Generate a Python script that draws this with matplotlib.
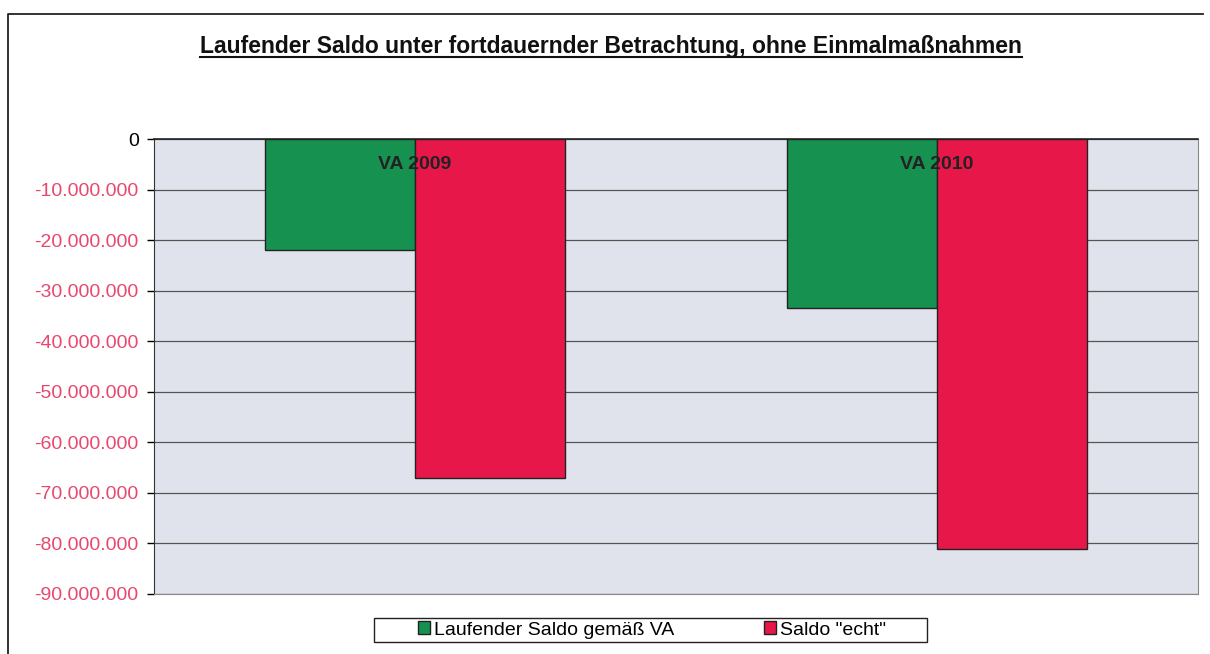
import matplotlib
matplotlib.use('Agg')
import matplotlib.pyplot as plt
from matplotlib.lines import Line2D
from matplotlib.patches import Rectangle

plt.rcParams['font.family'] = ['Liberation Sans', 'DejaVu Sans']

TITLE = 'Laufender Saldo unter fortdauernder Betrachtung, ohne Einmalmaßnahmen'
categories = ['VA 2009', 'VA 2010']
series_names = ['Laufender Saldo gemäß VA', 'Saldo "echt"']
saldo_va = [-22000000, -33500000]
saldo_echt = [-67000000, -81000000]
y_ticks = [0, -10000000, -20000000, -30000000, -40000000,
           -50000000, -60000000, -70000000, -80000000, -90000000]

GREEN = '#17914f'
RED = '#e8174a'
TICK_RED = '#e8486e'
PLOT_BG = '#e1e3ec'

W, H = 1210, 654
fig = plt.figure(figsize=(W / 100, H / 100), dpi=100)
ax = fig.add_axes([154 / W, 1 - 594 / H, (1198 - 154) / W, (594 - 139) / H])
ax.set_facecolor(PLOT_BG)

width = 0.287
x = list(range(len(categories)))
ax.bar([i - width / 2 for i in x], saldo_va, width, color=GREEN,
       edgecolor='#222222', linewidth=1, label=series_names[0], zorder=3)
ax.bar([i + width / 2 for i in x], saldo_echt, width, color=RED,
       edgecolor='#222222', linewidth=1, label=series_names[1], zorder=3)

ax.set_xlim(-0.5, 1.5)
ax.set_ylim(-90000000, 0)
ax.set_yticks(y_ticks)
ax.set_yticklabels(['{:,}'.format(v).replace(',', '.') for v in y_ticks],
                   fontsize=14)
for lbl, v in zip(ax.get_yticklabels(), y_ticks):
    lbl.set_color('black' if v == 0 else TICK_RED)
ax.tick_params(axis='y', direction='out', length=5, width=1, pad=6)
ax.set_xticks([])
ax.grid(axis='y', color='#555555', linewidth=0.9, zorder=1)
ax.set_axisbelow(True)

for s in ['right', 'bottom']:
    ax.spines[s].set_color('#888888')
ax.spines['left'].set_color('#333333')
ax.spines['top'].set_color('#222222')
ax.spines['top'].set_linewidth(1.2)

# category labels sit just under the zero line
for i, c in enumerate(categories):
    ax.text(i, -5000000, c, ha='center', va='center', fontsize=14,
            fontweight='bold', color='#222222', zorder=5)

# outer frame of the chart (left and top edges visible on the scan)
fig.add_artist(Line2D([8 / W, 8 / W, 1203 / W], [0, 1 - 14 / H, 1 - 14 / H],
                      transform=fig.transFigure, color='#222222', linewidth=1.3))

title = fig.text(611 / W, 1 - 47 / H, TITLE, ha='center', va='center',
                 fontsize=16.5, fontweight='bold', color='#111111')
fig.canvas.draw()
bb = title.get_window_extent(renderer=fig.canvas.get_renderer())
bb = bb.transformed(fig.transFigure.inverted())
fig.add_artist(Line2D([bb.x0, bb.x1], [bb.y0 + 0.002, bb.y0 + 0.002],
                      transform=fig.transFigure, color='#111111', linewidth=1.5))

# legend, with its own box drawn around it
leg = fig.legend(loc='center', bbox_to_anchor=(652 / W, 1 - 630 / H), ncol=2,
                 fontsize=14, frameon=False,
                 handlelength=0.65, handleheight=0.65, handletextpad=0.2,
                 columnspacing=4.6)
fig.add_artist(Rectangle((374 / W, 1 - 642 / H), (927 - 374) / W, 24 / H,
                         transform=fig.transFigure, fill=False,
                         edgecolor='#222222', linewidth=1))

fig.savefig('out.png', dpi=100, facecolor='white')
